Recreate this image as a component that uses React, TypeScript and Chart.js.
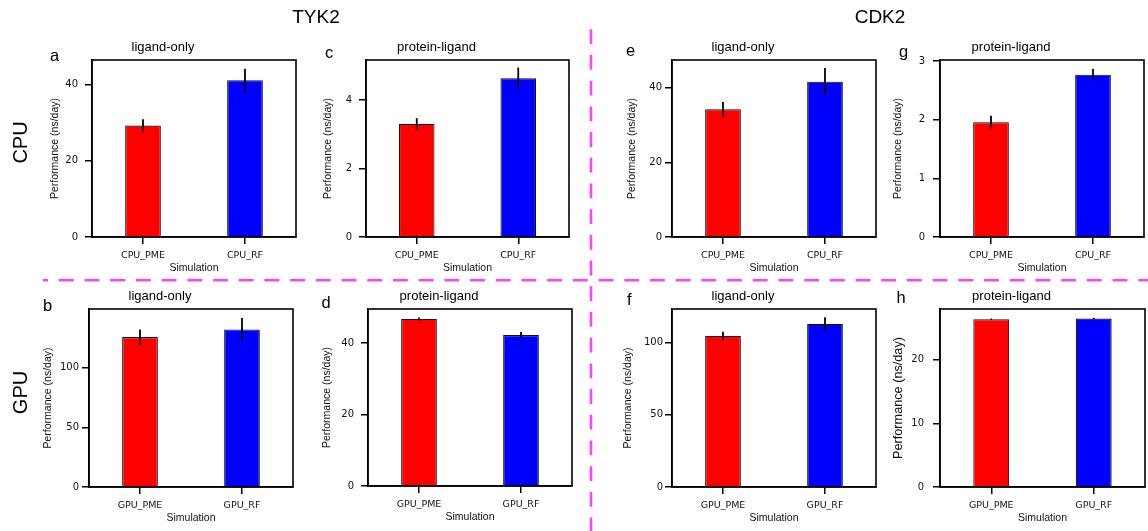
import React, { useEffect, useRef } from "react";
import { Chart, registerables } from "chart.js";

Chart.register(...registerables);

// ---------- data ----------
const cpuCategories = ["CPU_PME", "CPU_RF"];
const gpuCategories = ["GPU_PME", "GPU_RF"];
const barColors = ["#ff0000", "#0000ff"];

const tyk2CpuLigandMean = [29.2, 41.1];
const tyk2CpuLigandErr = [1.7, 3.0];
const tyk2CpuComplexMean = [3.3, 4.64];
const tyk2CpuComplexErr = [0.17, 0.31];
const cdk2CpuLigandMean = [34.2, 41.6];
const cdk2CpuLigandErr = [1.95, 3.65];
const cdk2CpuComplexMean = [1.96, 2.77];
const cdk2CpuComplexErr = [0.11, 0.1];
const tyk2GpuLigandMean = [125.5, 131.9];
const tyk2GpuLigandErr = [6.4, 9.5];
const tyk2GpuComplexMean = [46.7, 42.2];
const tyk2GpuComplexErr = [0.4, 0.9];
const cdk2GpuLigandMean = [104.4, 112.7];
const cdk2GpuLigandErr = [2.9, 4.6];
const cdk2GpuComplexMean = [26.4, 26.5];
const cdk2GpuComplexErr = [0.1, 0.1];

const ticksA = [0, 20, 40];
const ticksC = [0, 2, 4];
const ticksE = [0, 20, 40];
const ticksG = [0, 1, 2, 3];
const ticksB = [0, 50, 100];
const ticksD = [0, 20, 40];
const ticksF = [0, 50, 100];
const ticksH = [0, 10, 20];

const yMaxA = 46.4;
const yMaxC = 5.17;
const yMaxE = 47.4;
const yMaxG = 3.02;
const yMaxB = 149;
const yMaxD = 49.5;
const yMaxF = 123;
const yMaxH = 28;

const titleLigand = "ligand-only";
const titleComplex = "protein-ligand";
const yAxisTitle = "Performance (ns/day)";
const xAxisTitle = "Simulation";

// ---------- layout (positions / styles) ----------
const Y_W = 62;
const TOP_H = 32;
const X_H = 44;
const SANS = "'Liberation Sans', Arial, Helvetica, sans-serif";
const TICKFONT = "'DejaVu Sans', sans-serif";

type PanelDef = {
  key: string;
  title: string;
  labels: string[];
  mean: number[];
  err: number[];
  ticks: number[];
  yMax: number;
  L: number; T: number; R: number; B: number;
  titleDx: number;
  yTitleOff: number;
  yTickPad: number;
  yTitleSize: number;
};

const panels: PanelDef[] = [
  { key: "a", title: titleLigand, labels: cpuCategories, mean: tyk2CpuLigandMean, err: tyk2CpuLigandErr, ticks: ticksA, yMax: yMaxA,
    L: 92, T: 60, R: 296, B: 237, titleDx: -11, yTitleOff: 37, yTickPad: 7, yTitleSize: 10.5 },
  { key: "c", title: titleComplex, labels: cpuCategories, mean: tyk2CpuComplexMean, err: tyk2CpuComplexErr, ticks: ticksC, yMax: yMaxC,
    L: 366, T: 60, R: 569, B: 237, titleDx: -10.5, yTitleOff: 38, yTickPad: 7, yTitleSize: 10.5 },
  { key: "e", title: titleLigand, labels: cpuCategories, mean: cdk2CpuLigandMean, err: cdk2CpuLigandErr, ticks: ticksE, yMax: yMaxE,
    L: 672, T: 60, R: 876, B: 237, titleDx: -11, yTitleOff: 40, yTickPad: 3, yTitleSize: 10.5 },
  { key: "g", title: titleComplex, labels: cpuCategories, mean: cdk2CpuComplexMean, err: cdk2CpuComplexErr, ticks: ticksG, yMax: yMaxG,
    L: 940, T: 60, R: 1144, B: 237, titleDx: -2, yTitleOff: 41.5, yTickPad: 8, yTitleSize: 10.5 },
  { key: "b", title: titleLigand, labels: gpuCategories, mean: tyk2GpuLigandMean, err: tyk2GpuLigandErr, ticks: ticksB, yMax: yMaxB,
    L: 89, T: 309, R: 293, B: 487, titleDx: -8, yTitleOff: 41, yTickPad: 3, yTitleSize: 10.5 },
  { key: "d", title: titleComplex, labels: gpuCategories, mean: tyk2GpuComplexMean, err: tyk2GpuComplexErr, ticks: ticksD, yMax: yMaxD,
    L: 368, T: 309, R: 572, B: 486, titleDx: -4, yTitleOff: 40.5, yTickPad: 7, yTitleSize: 10.5 },
  { key: "f", title: titleLigand, labels: gpuCategories, mean: cdk2GpuLigandMean, err: cdk2GpuLigandErr, ticks: ticksF, yMax: yMaxF,
    L: 672, T: 309, R: 876, B: 487, titleDx: -3, yTitleOff: 44, yTickPad: 2, yTitleSize: 10.5 },
  { key: "h", title: titleComplex, labels: gpuCategories, mean: cdk2GpuComplexMean, err: cdk2GpuComplexErr, ticks: ticksH, yMax: yMaxH,
    L: 940, T: 309, R: 1145, B: 487, titleDx: -2, yTitleOff: 42, yTickPad: 9, yTitleSize: 12.7 },
];

const framePlugin = {
  id: "frame",
  afterDraw(chart: any) {
    const { ctx, chartArea } = chart;
    ctx.save();
    ctx.strokeStyle = "#000";
    ctx.lineWidth = 1.6;
    ctx.strokeRect(chartArea.left, chartArea.top, chartArea.right - chartArea.left, chartArea.bottom - chartArea.top);
    ctx.restore();
  },
};

const errorBarPlugin = {
  id: "errorbars",
  afterDatasetsDraw(chart: any) {
    const { ctx } = chart;
    const yScale = chart.scales.y;
    chart.data.datasets.forEach((ds: any, di: number) => {
      const meta = chart.getDatasetMeta(di);
      const errs: number[] = ds.errors || [];
      meta.data.forEach((bar: any, i: number) => {
        const v = ds.data[i] as number;
        const e = errs[i] || 0;
        const y1 = yScale.getPixelForValue(v + e);
        const y2 = yScale.getPixelForValue(v - e);
        ctx.save();
        ctx.strokeStyle = "#000";
        ctx.lineWidth = 1.8;
        ctx.beginPath();
        ctx.moveTo(bar.x, y1);
        ctx.lineTo(bar.x, y2);
        ctx.stroke();
        ctx.restore();
      });
    });
  },
};

function Panel({ p }: { p: PanelDef }) {
  const ref = useRef<HTMLCanvasElement>(null);
  const padR = Y_W + 2 * p.titleDx;
  const left = p.L - Y_W;
  const top = p.T - TOP_H;
  const width = p.R - p.L + Y_W + padR;
  const height = p.B - p.T + TOP_H + X_H;

  useEffect(() => {
    const titleSize = 13;
    const titleLH = titleSize * 1.2;
    const titlePadTop = TOP_H - 12.5 - titleLH / 2;
    const titlePadBottom = TOP_H - titleLH - titlePadTop;
    const tickSize = 10;
    const tickLH = tickSize * 1.2;
    const yTitleLH = p.yTitleSize * 1.2;
    const xTitleSize = 10.5;
    const xTitleLH = xTitleSize * 1.2;

    const chart = new Chart(ref.current as HTMLCanvasElement, {
      type: "bar",
      data: {
        labels: p.labels,
        datasets: [
          {
            data: p.mean,
            errors: p.err,
            backgroundColor: barColors,
            borderColor: "#111",
            borderWidth: 1.1,
            barPercentage: 0.35,
            categoryPercentage: 1,
          } as any,
        ],
      },
      options: {
        animation: false,
        responsive: false,
        maintainAspectRatio: false,
        devicePixelRatio: 1,
        layout: { padding: { left: 0, top: 0, right: padR, bottom: 0 } },
        plugins: {
          legend: { display: false },
          tooltip: { enabled: false },
          title: {
            display: true,
            text: p.title,
            color: "#000",
            font: { family: SANS, size: titleSize, weight: "normal" as any, lineHeight: 1.2 },
            padding: { top: titlePadTop, bottom: titlePadBottom },
          },
        },
        scales: {
          x: {
            offset: true,
            grid: { offset: false, drawOnChartArea: false, drawTicks: true, tickLength: 7, lineWidth: 1.5, color: "#000" },
            border: { display: true, color: "#000", width: 1.6 },
            ticks: {
              color: "#111",
              font: { family: TICKFONT, size: 9.5, lineHeight: 1.2 },
              padding: 18.8 - 7 - (9.5 * 1.2) / 2,
              maxRotation: 0,
              minRotation: 0,
              autoSkip: false,
            },
            title: {
              display: true,
              text: xAxisTitle,
              color: "#111",
              font: { family: SANS, size: xTitleSize, lineHeight: 1.2 },
              padding: { top: 0, bottom: X_H - 31.5 - xTitleLH / 2 },
            },
            afterFit: (s: any) => {
              s.height = X_H;
            },
          },
          y: {
            min: 0,
            max: p.yMax,
            afterBuildTicks: (s: any) => {
              s.ticks = p.ticks.map((v) => ({ value: v }));
            },
            grid: { drawOnChartArea: false, drawTicks: true, tickLength: 7, lineWidth: 1.5, color: "#000" },
            border: { display: true, color: "#000", width: 1.6 },
            ticks: {
              color: "#111",
              font: { family: TICKFONT, size: tickSize, lineHeight: 1.2 },
              padding: p.yTickPad,
            },
            title: {
              display: true,
              text: yAxisTitle,
              color: "#111",
              font: { family: SANS, size: p.yTitleSize, lineHeight: 1.2 },
              padding: { top: Y_W - yTitleLH / 2 - p.yTitleOff, bottom: 0 },
            },
            afterFit: (s: any) => {
              s.width = Y_W;
            },
          },
        },
      } as any,
      plugins: [errorBarPlugin, framePlugin],
    });
    return () => chart.destroy();
  }, []);

  return (
    <canvas
      ref={ref}
      width={width}
      height={height}
      style={{ position: "absolute", left, top, width, height }}
    />
  );
}

const panelLetters = [
  { t: "a", x: 50, y: 60.5 },
  { t: "c", x: 325, y: 57.5 },
  { t: "e", x: 626, y: 55.7 },
  { t: "g", x: 899, y: 57 },
  { t: "b", x: 43, y: 310.7 },
  { t: "d", x: 321.5, y: 308.3 },
  { t: "f", x: 627, y: 305 },
  { t: "h", x: 896.5, y: 303.3 },
];

export default function App() {
  return (
    <div
      style={{
        position: "absolute",
        left: 0,
        top: 0,
        width: 1148,
        height: 531,
        overflow: "hidden",
        background: "#fff",
      }}
    >
      {panels.map((p) => (
        <Panel key={p.key} p={p} />
      ))}
      <svg
        width={1148}
        height={531}
        style={{ position: "absolute", left: 0, top: 0, pointerEvents: "none" }}
      >
        <line x1={591} y1={29.3} x2={591} y2={531} stroke="#ff40ff" strokeWidth={2.6} strokeDasharray="14.8 10.9" />
        <line x1={43} y1={280.3} x2={1148} y2={280.3} stroke="#ff40ff" strokeWidth={2.6} strokeDasharray="14.8 10.9" strokeDashoffset={9.8} />
        <text x={316} y={23.3} textAnchor="middle" fontFamily={SANS} fontSize={19} fill="#000">TYK2</text>
        <text x={880} y={23.3} textAnchor="middle" fontFamily={SANS} fontSize={19} fill="#000">CDK2</text>
        <text transform="translate(26.5,142.5) rotate(-90)" textAnchor="middle" fontFamily={SANS} fontSize={20} fill="#000">CPU</text>
        <text transform="translate(26.5,392.5) rotate(-90)" textAnchor="middle" fontFamily={SANS} fontSize={20} fill="#000">GPU</text>
        {panelLetters.map((l) => (
          <text key={l.t} x={l.x} y={l.y} fontFamily={SANS} fontSize={16.5} fill="#000">{l.t}</text>
        ))}
      </svg>
    </div>
  );
}
